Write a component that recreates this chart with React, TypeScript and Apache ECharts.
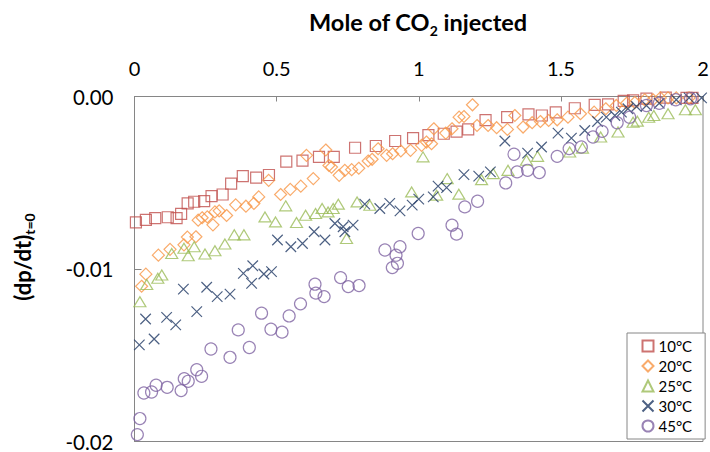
import React, { useEffect, useRef } from "react";
import * as echarts from "echarts";

const xTicks = [0, 0.5, 1, 1.5, 2];
const yTickLabels = ["-0.02", "-0.01", "0.00"];
const seriesNames = ["10°C", "20°C", "25°C", "30°C", "45°C"];

const s10: number[][] = [
  [0.005, -0.0073], [0.04, -0.00715], [0.073, -0.00705], [0.117, -0.007], [0.148, -0.00705],
  [0.164, -0.0068], [0.187, -0.0062], [0.21, -0.0061], [0.245, -0.00607], [0.271, -0.00578],
  [0.31, -0.00568], [0.34, -0.00505], [0.381, -0.00462], [0.428, -0.0047], [0.473, -0.00455],
  [0.534, -0.00378], [0.591, -0.00372], [0.649, -0.0035], [0.701, -0.0035], [0.776, -0.00297],
  [0.849, -0.00287], [0.917, -0.00258], [0.98, -0.00241], [1.034, -0.00224], [1.088, -0.00216],
  [1.133, -0.00204], [1.174, -0.00191], [1.235, -0.00137], [1.311, -0.0012], [1.386, -0.00104],
  [1.433, -0.0011], [1.482, -0.00092], [1.549, -0.00068], [1.619, -0.00048], [1.666, -0.00046],
  [1.721, -0.00025], [1.754, -0.00023], [1.801, -0.00012], [1.869, -0.00006], [1.942, -0.00008],
  [1.963, -0.00008],
];

const s20: number[][] = [
  [0.025, -0.011], [0.04, -0.0103], [0.084, -0.0092], [0.125, -0.00886], [0.174, -0.0086],
  [0.186, -0.00815], [0.216, -0.00813], [0.224, -0.00717], [0.238, -0.00703], [0.256, -0.00698],
  [0.276, -0.00744], [0.283, -0.00669], [0.298, -0.00663], [0.324, -0.0069], [0.356, -0.00628],
  [0.392, -0.00636], [0.42, -0.0062], [0.437, -0.00582], [0.472, -0.00486], [0.514, -0.00568],
  [0.548, -0.00538], [0.585, -0.0052], [0.605, -0.00341], [0.629, -0.00476], [0.673, -0.0031],
  [0.684, -0.004], [0.693, -0.00409], [0.72, -0.00457], [0.74, -0.00428], [0.764, -0.00424],
  [0.789, -0.00416], [0.822, -0.00374], [0.836, -0.00364], [0.857, -0.00303], [0.887, -0.00341],
  [0.908, -0.00332], [0.937, -0.00316], [0.971, -0.00312], [1.01, -0.00283], [1.027, -0.00264],
  [1.045, -0.00274], [1.053, -0.00187], [1.095, -0.00212], [1.117, -0.00187], [1.142, -0.0012],
  [1.159, -0.00116], [1.189, -0.00048], [1.205, -0.00168], [1.244, -0.00168], [1.274, -0.00181],
  [1.312, -0.00191], [1.338, -0.0011], [1.367, -0.00177], [1.399, -0.00152], [1.428, -0.00145],
  [1.457, -0.00139], [1.487, -0.00135], [1.525, -0.0012], [1.569, -0.001], [1.617, -0.00091],
  [1.658, -0.00071], [1.695, -0.00052], [1.731, -0.00039], [1.76, -0.00035], [1.795, -0.00019],
  [1.824, -0.00019], [1.85, -0.00008], [1.877, -0.00008], [1.906, -0.00008], [1.951, -0.00008],
];

const s25: number[][] = [
  [0.019, -0.0119], [0.043, -0.0109], [0.082, -0.01054], [0.096, -0.01035], [0.131, -0.0091],
  [0.174, -0.0088], [0.189, -0.00923], [0.21, -0.00871], [0.248, -0.00913], [0.283, -0.00894],
  [0.318, -0.00855], [0.351, -0.00802], [0.385, -0.00802], [0.459, -0.00698], [0.496, -0.00727],
  [0.532, -0.00634], [0.57, -0.0073], [0.602, -0.00688], [0.637, -0.00678], [0.66, -0.00649],
  [0.681, -0.00669], [0.699, -0.00649], [0.717, -0.00624], [0.746, -0.00823], [0.783, -0.00611],
  [0.828, -0.0063], [0.975, -0.00553], [1.015, -0.0035], [1.063, -0.00572], [1.1, -0.00476],
  [1.141, -0.00566], [1.221, -0.00482], [1.262, -0.00447], [1.314, -0.00428], [1.379, -0.0037],
  [1.418, -0.00347], [1.531, -0.00322], [1.576, -0.00299], [1.64, -0.00235], [1.701, -0.00206],
  [1.754, -0.00149], [1.769, -0.00143], [1.809, -0.0012], [1.827, -0.0011], [1.877, -0.001],
  [1.938, -0.00077], [1.973, -0.00077],
];

const s30: number[][] = [
  [0.017, -0.0144], [0.039, -0.0129], [0.069, -0.01406], [0.113, -0.0128], [0.145, -0.01324],
  [0.172, -0.01117], [0.219, -0.01247], [0.254, -0.01106], [0.291, -0.0116], [0.336, -0.01146],
  [0.383, -0.01025], [0.412, -0.01083], [0.416, -0.00981], [0.455, -0.01029], [0.482, -0.01015],
  [0.503, -0.00832], [0.55, -0.00871], [0.591, -0.00852], [0.632, -0.00784], [0.67, -0.00832],
  [0.705, -0.00736], [0.734, -0.00755], [0.74, -0.00784], [0.769, -0.00746], [0.81, -0.00624],
  [0.863, -0.00649], [0.898, -0.0062], [0.934, -0.00663], [0.977, -0.0063], [1.0, -0.00595],
  [1.051, -0.00582], [1.068, -0.0052], [1.098, -0.00528], [1.159, -0.00453], [1.211, -0.00462],
  [1.252, -0.00437], [1.303, -0.00258], [1.383, -0.00328], [1.432, -0.00293], [1.49, -0.00212],
  [1.537, -0.00241], [1.584, -0.00197], [1.629, -0.00145], [1.66, -0.0012], [1.69, -0.0011],
  [1.713, -0.00091], [1.736, -0.00071], [1.766, -0.00058], [1.801, -0.00052], [1.846, -0.00039],
  [1.906, -0.00019], [1.951, -0.00008], [1.995, -0.00008],
];

const s45: number[][] = [
  [0.01, -0.0196], [0.019, -0.01867], [0.033, -0.01719], [0.06, -0.01713], [0.076, -0.01674],
  [0.115, -0.01686], [0.164, -0.01705], [0.175, -0.01636], [0.189, -0.01651], [0.219, -0.01584],
  [0.236, -0.01622], [0.269, -0.01464], [0.336, -0.01512], [0.365, -0.01353], [0.404, -0.01455],
  [0.447, -0.01256], [0.48, -0.01349], [0.519, -0.01366], [0.544, -0.01272], [0.584, -0.01202],
  [0.635, -0.01088], [0.638, -0.0114], [0.667, -0.0116], [0.725, -0.0105], [0.752, -0.01102],
  [0.79, -0.01096], [0.881, -0.0089], [0.907, -0.00992], [0.92, -0.0092], [0.925, -0.00967],
  [0.934, -0.00871], [0.998, -0.00794], [1.117, -0.00746], [1.133, -0.00798], [1.162, -0.0064],
  [1.207, -0.00607], [1.306, -0.00501], [1.335, -0.00335], [1.346, -0.00437], [1.383, -0.00428],
  [1.424, -0.00441], [1.487, -0.00347], [1.529, -0.00302], [1.572, -0.00293], [1.613, -0.00235],
  [1.645, -0.00202], [1.698, -0.00152], [1.742, -0.0012], [1.801, -0.00052], [1.846, -0.00039],
  [1.904, -0.00019], [1.956, -0.00013],
];

const FONT = "Lato, 'Open Sans', sans-serif";
const AXIS_GREY = "#868686";

export default function App() {
  const ref = useRef<HTMLDivElement>(null);
  useEffect(() => {
    if (!ref.current) return;
    const chart = echarts.init(ref.current, undefined, { renderer: "svg" });
    const hollow = (color: string, bw = 1.2) => ({ color: "none", borderColor: color, borderWidth: bw });
    const datasets = [s10, s20, s25, s30, s45];
    const symbols: any[] = ["rect", "diamond", "triangle", "path://M0,0L10,10M10,0L0,10", "circle"];
    const sizes: any[] = [11, 12, [12, 10], 10.5, 12];
    const colors = ["#C0504D", "#F79646", "#9BBB59", "#1F3864", "#8064A2"];
    chart.setOption({
      animation: false,
      textStyle: { fontFamily: FONT },
      grid: {
        left: 134.5,
        right: 7,
        top: 96.5,
        bottom: 10.5,
        containLabel: false,
        outerBoundsMode: "none",
        show: true,
        borderColor: AXIS_GREY,
        borderWidth: 1,
        backgroundColor: "#fff",
      },
      xAxis: {
        type: "value",
        position: "top",
        min: 0,
        max: 2,
        interval: 0.5,
        axisLine: { show: true, lineStyle: { color: AXIS_GREY, width: 1 } },
        axisTick: { show: true, inside: true, length: 5, lineStyle: { color: AXIS_GREY } },
        splitLine: { show: false },
        axisLabel: {
          color: "#000",
          fontSize: 20,
          fontFamily: FONT,
          margin: 19,
          formatter: (v: number) => (xTicks.includes(v) ? String(v) : ""),
        },
      },
      yAxis: {
        type: "value",
        min: -0.02,
        max: 0,
        interval: 0.01,
        axisLine: { show: true, lineStyle: { color: AXIS_GREY, width: 1 } },
        axisTick: { show: true, inside: true, length: 7, lineStyle: { color: AXIS_GREY } },
        splitLine: { show: false },
        axisLabel: {
          color: "#000",
          fontSize: 20.5,
          fontFamily: FONT,
          margin: 21,
          formatter: (v: number) => {
            const idx = Math.round((v + 0.02) / 0.01);
            return yTickLabels[idx] ?? "";
          },
        },
      },
      legend: {
        orient: "vertical",
        left: 627,
        top: 333,
        height: 170,
        padding: [5, 13, 5, 13],
        itemWidth: 11,
        itemHeight: 11,
        itemGap: 4,
        borderColor: AXIS_GREY,
        borderWidth: 1,
        backgroundColor: "#fff",
        textStyle: { color: "#000", fontSize: 15, lineHeight: 15, fontFamily: FONT },
        data: seriesNames,
      },
      series: datasets.map((d, i) => ({
        name: seriesNames[i],
        type: "scatter",
        data: d,
        symbol: symbols[i],
        symbolSize: sizes[i],
        itemStyle: hollow(colors[i]),
        emphasis: { disabled: true },
      })),
      graphic: [
        {
          type: "text",
          x: 418,
          y: 22,
          style: {
            text: "{b|Mole of CO}{s|2}{b| injected}",
            align: "center",
            verticalAlign: "middle",
            rich: {
              b: { fontSize: 23.5, fontWeight: "bold", fontFamily: FONT, fill: "#000" },
              s: { fontSize: 14, fontWeight: "bold", fontFamily: FONT, fill: "#000", padding: [16, 0, 0, 0] },
            },
          },
        },
        {
          type: "text",
          x: 22,
          y: 257,
          rotation: Math.PI / 2,
          style: {
            text: "{b|(dp/dt)}{s|t=0}",
            align: "center",
            verticalAlign: "middle",
            rich: {
              b: { fontSize: 22, fontWeight: "bold", fontFamily: FONT, fill: "#000" },
              s: { fontSize: 14, fontWeight: "bold", fontFamily: FONT, fill: "#000", padding: [15, 0, 0, 0] },
            },
          },
        },
      ],
    });
    return () => chart.dispose();
  }, []);
  return <div ref={ref} style={{ width: 710, height: 452, position: "absolute", left: 0, top: 0 }} />;
}
